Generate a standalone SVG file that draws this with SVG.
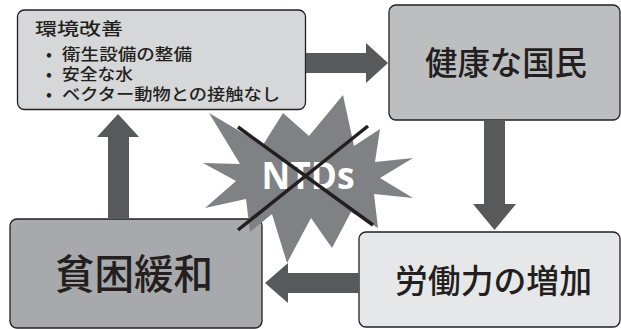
<svg xmlns="http://www.w3.org/2000/svg" width="621" height="329" viewBox="0 0 621 329">
<style>
.box{stroke:#231f20;stroke-width:1.3}
.t{font-family:"Noto Sans CJK JP","Noto Sans",sans-serif;fill:#231f20;font-weight:500}
.b{font-weight:bold}
.arr{fill:#58595b}
.x{stroke:#231f20;stroke-width:3.5;stroke-linecap:butt}
</style>
<rect width="621" height="329" fill="#ffffff"/>
<g id="node-env">
<rect class="box" x="17.5" y="10" width="288" height="99.5" rx="7" fill="#d6d7d8"/>
<text class="t" x="35" y="35" font-size="17" textLength="88" lengthAdjust="spacingAndGlyphs">環境改善</text>
<text class="t" font-size="15.5" y="60"><tspan class="b" x="46">•</tspan><tspan x="62" textLength="130" lengthAdjust="spacingAndGlyphs">衛生設備の整備</tspan></text>
<text class="t" font-size="15.5" y="80"><tspan class="b" x="46">•</tspan><tspan x="62" textLength="71" lengthAdjust="spacingAndGlyphs">安全な水</tspan></text>
<text class="t" font-size="15.5" y="100"><tspan class="b" x="46">•</tspan><tspan x="62" textLength="218" lengthAdjust="spacingAndGlyphs">ベクター動物との接触なし</tspan></text>
</g>
<g id="node-healthy">
<rect class="box" x="389" y="5" width="231" height="115" rx="7" fill="#bcbec0"/>
<text class="t" x="425" y="75" font-size="33" textLength="162" lengthAdjust="spacingAndGlyphs">健康な国民</text>
</g>
<g id="node-poverty">
<rect class="box" x="10" y="219" width="252" height="109" rx="7" fill="#a7a9ac"/>
<text class="t" x="55" y="289" font-size="41" textLength="158" lengthAdjust="spacingAndGlyphs">貧困緩和</text>
</g>
<g id="node-labor">
<rect class="box" x="359" y="232" width="261" height="95" rx="7" fill="#e6e7e8"/>
<text class="t" x="395" y="293" font-size="33" textLength="197" lengthAdjust="spacingAndGlyphs">労働力の増加</text>
</g>
<g id="connectors">
<polygon class="arr" points="306,53 366,53 366,43 388,63 366,83 366,73 306,73"/>
<polygon class="arr" points="484,120 505,120 505,204 516,204 494.5,230 473,204 484,204"/>
<polygon class="arr" points="359,273 288,273 288,263 265,283 288,303 288,293 359,293"/>
<polygon class="arr" points="108,219 108,137 97,137 118,114 139,137 129,137 129,219"/>
</g>
<g id="ntds">
<polygon fill="#808184" points="343,95 354,146 380,129 375,162 413,158 380,178 413,198 374,194 378,228 351,212 332,248 311,218 287,263 272,214 250,232 246,199 205,208 236,181 203,163 240,164 209,113 263,145 283,113 309,136"/>
<text x="308" y="189" text-anchor="middle" font-family="'Open Sans','Noto Sans',sans-serif" font-weight="bold" font-size="37" fill="#ffffff" textLength="93" lengthAdjust="spacingAndGlyphs">NTDs</text>
<line class="x" x1="238" y1="127" x2="373" y2="225"/>
<line class="x" x1="368" y1="126" x2="238" y2="230"/>
</g>
</svg>
